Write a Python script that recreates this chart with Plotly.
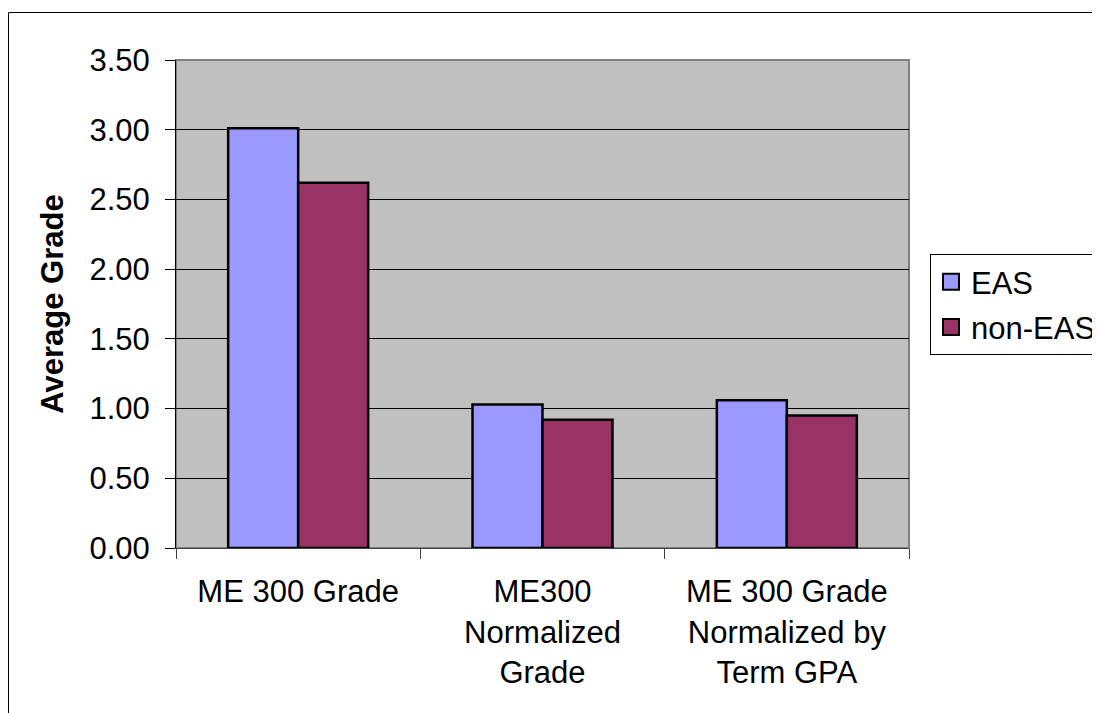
import plotly.graph_objects as go

categories = ["ME 300 Grade", "ME300<br>Normalized<br>Grade", "ME 300 Grade<br>Normalized by<br>Term GPA"]
eas_values = [3.01, 1.03, 1.06]
non_eas_values = [2.62, 0.92, 0.95]
series_names = ["EAS", "non-EAS"]
series_colors = ["#9999FF", "#993366"]
y_ticks = [0, 0.5, 1.0, 1.5, 2.0, 2.5, 3.0, 3.5]

FONT = "Liberation Sans, Arial, sans-serif"
FS = 31

# page is offset by the body margin
OFF = 8
W, H = 1100 - OFF, 713 - OFF
L, T = 176 - OFF, 60 - OFF
R = W - (909 - OFF)
B = H - (548 - OFF)
pw, ph = W - L - R, H - T - B


def px_x(p):
    return (p - OFF - L) / pw


def px_y(p):
    return (H - B - (p - OFF)) / ph


fig = go.Figure()
for name, vals, col in zip(series_names, [eas_values, non_eas_values], series_colors):
    fig.add_trace(go.Bar(x=categories, y=vals, name=name, showlegend=False,
                         marker=dict(color=col, line=dict(color="black", width=2.5))))
# legend proxies with larger squares
for name, col in zip(series_names, series_colors):
    fig.add_trace(go.Scatter(x=[None], y=[None], mode="markers", name=name,
                             legendgroup=name,
                             marker=dict(symbol="square", size=16, color=col,
                                         line=dict(color="black", width=2))))

fig.update_layout(
    width=W, height=H,
    margin=dict(l=L, r=R, t=T, b=B, autoexpand=False),
    paper_bgcolor="white",
    plot_bgcolor="#C0C0C0",
    barmode="group",
    bargap=0.427,
    bargroupgap=0,
    font=dict(family=FONT, size=FS, color="black"),
    showlegend=True,
    legend=dict(x=px_x(930), y=px_y(254), xanchor="left", yanchor="top",
                bordercolor="black", borderwidth=1, bgcolor="white",
                font=dict(family=FONT, size=FS, color="black"),
                traceorder="grouped", tracegroupgap=2, itemsizing="trace"),
    xaxis=dict(
        showgrid=False, showline=True, linecolor="#404040", linewidth=1,
        ticks="outside", ticklen=10, tickcolor="#404040", tickson="boundaries",
        tickfont=dict(family=FONT, size=FS, color="black"),
        ticklabelstandoff=16,
        automargin=False,
    ),
    yaxis=dict(
        range=[0, 3.5], tickvals=y_ticks, tickformat=".2f",
        showgrid=True, gridcolor="black", gridwidth=1,
        showline=True, linecolor="black", linewidth=1,
        ticks="outside", ticklen=10, tickcolor="black",
        tickfont=dict(family=FONT, size=FS, color="black"),
        ticklabelstandoff=9,
        title=dict(text="<b>Average Grade</b>", font=dict(family=FONT, size=FS, color="black"), standoff=16),
        zeroline=False, automargin=False,
    ),
    shapes=[
        dict(type="rect", xref="paper", yref="paper", x0=0, x1=1, y0=0, y1=1,
             line=dict(color="#808080", width=2), layer="below"),
        dict(type="rect", xref="paper", yref="paper",
             x0=px_x(8.5), x1=px_x(1120), y0=px_y(730), y1=px_y(12.5),
             line=dict(color="black", width=1), layer="below"),
    ],
)

fig.write_html("out.html")
